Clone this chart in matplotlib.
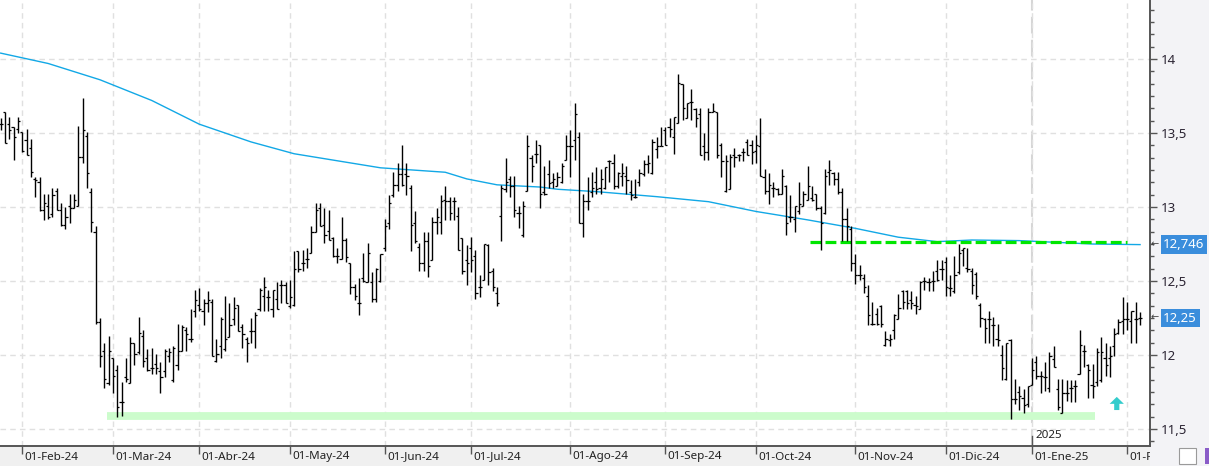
import numpy as np
import pandas as pd
import matplotlib
matplotlib.use("Agg")
import matplotlib.pyplot as plt
from matplotlib.ticker import MultipleLocator, FuncFormatter
from matplotlib.transforms import blended_transform_factory, Bbox, TransformedBbox
from matplotlib.patches import Polygon, Rectangle

# --- trading calendar (BME holidays removed) ---
holidays = ["2024-03-29", "2024-04-01", "2024-05-01", "2024-12-25", "2024-12-26", "2025-01-01"]
dates = pd.bdate_range("2024-01-25", "2025-02-06", freq="C", holidays=holidays)

highs = [
    13.60, 13.64, 13.61, 13.54, 13.61, 13.51, 13.53, 13.46, 13.20, 13.20,
    13.09, 13.09, 13.13, 13.13, 13.03, 13.00, 13.09, 13.09, 13.55, 13.74,
    13.51, 13.13, 12.87, 12.25, 12.08, 12.13, 11.98, 11.93, 11.82, 11.98,
    12.12, 12.08, 12.26, 12.17, 12.04, 12.05, 12.01, 11.95, 12.04, 12.05,
    12.06, 12.21, 12.20, 12.19, 12.31, 12.44, 12.45, 12.38, 12.43, 12.38,
    12.11, 12.26, 12.40, 12.35, 12.39, 12.34, 12.21, 12.12, 12.25, 12.29,
    12.45, 12.53, 12.44, 12.44, 12.49, 12.51, 12.49, 12.51, 12.70, 12.70,
    12.71, 12.72, 12.87, 13.03, 13.03, 12.99, 12.98, 12.80, 12.72, 12.93,
    12.79, 12.62, 12.48, 12.52, 12.69, 12.76, 12.56, 12.59, 12.68, 12.92,
    13.08, 13.24, 13.30, 13.42, 13.30, 13.15, 12.97, 12.76, 12.83, 12.83,
    12.93, 12.99, 13.08, 13.14, 13.07, 13.07, 13.00, 12.79, 12.74, 12.80,
    12.71, 12.54, 12.75, 12.75, 12.59, 12.46, 13.15, 13.33, 13.21, 13.21,
    13.01, 13.04, 13.49, 13.35, 13.45, 13.42, 13.28, 13.32, 13.23, 13.24,
    13.30, 13.49, 13.52, 13.70, 13.51, 13.09, 13.20, 13.24,
    13.27, 13.26, 13.27, 13.32, 13.36, 13.24, 13.30, 13.28, 13.18, 13.19,
    13.26, 13.32, 13.35, 13.46, 13.47, 13.54, 13.54, 13.60, 13.61, 13.90,
    13.83, 13.70, 13.80, 13.67, 13.67, 13.50, 13.67, 13.70, 13.64, 13.43,
    13.35, 13.36, 13.40, 13.36, 13.40, 13.46, 13.45, 13.49, 13.60, 13.26,
    13.23, 13.17, 13.13, 13.26, 13.15, 13.08, 13.01, 13.17, 13.11, 13.28,
    13.14, 13.09, 13.01, 13.26, 13.32, 13.24, 13.24, 13.13, 12.99, 12.87,
    12.68, 12.61, 12.55, 12.47, 12.36, 12.32, 12.34, 12.16, 12.14, 12.28,
    12.41,
    12.44, 12.44, 12.43, 12.40, 12.50, 12.53, 12.52, 12.57, 12.64, 12.64,
    12.66, 12.54, 12.67, 12.75, 12.72, 12.72, 12.59, 12.56, 12.35, 12.25,
    12.30, 12.26, 12.21, 12.07, 12.08, 12.11, 11.84, 11.79, 11.77, 11.79,
    11.98, 11.99, 11.89, 11.95, 12.02, 12.06, 11.84, 11.84, 11.83, 11.83,
    11.83, 12.17, 12.07, 11.94, 11.94, 12.05, 12.12, 12.08, 12.06, 12.18,
    12.24, 12.39, 12.36, 12.30, 12.36, 12.29,
]

lows = [
    13.52, 13.43, 13.46, 13.32, 13.50, 13.37, 13.35, 13.20, 13.07, 12.97,
    12.91, 12.92, 12.93, 12.98, 12.87, 12.85, 12.89, 12.99, 13.01, 13.30,
    13.13, 12.83, 12.21, 11.92, 11.78, 11.80, 11.74, 11.58, 11.59, 11.82,
    11.81, 11.93, 12.01, 11.92, 11.89, 11.87, 11.87, 11.74, 11.85, 11.95,
    11.82, 11.90, 12.03, 12.03, 12.09, 12.26, 12.30, 12.20, 12.29, 11.99,
    11.95, 11.98, 12.03, 12.12, 12.20, 12.16, 12.05, 11.95, 12.08, 12.05,
    12.30, 12.30, 12.30, 12.26, 12.31, 12.35, 12.35, 12.32, 12.33, 12.56,
    12.57, 12.59, 12.69, 12.83, 12.87, 12.76, 12.78, 12.66, 12.62, 12.65,
    12.63, 12.41, 12.37, 12.27, 12.49, 12.49, 12.36, 12.36, 12.49, 12.70,
    12.85, 13.07, 13.11, 13.14, 13.08, 12.70, 12.76, 12.57, 12.57, 12.53,
    12.64, 12.82, 12.82, 12.91, 12.91, 12.91, 12.71, 12.55, 12.47, 12.56,
    12.38, 12.39, 12.51, 12.47, 12.43, 12.33, 12.77, 13.10, 13.07, 12.93,
    12.86, 12.80, 13.11, 13.17, 13.30, 12.99, 13.08, 13.13, 13.13, 13.14,
    13.16, 13.32, 13.20, 13.32, 12.89, 12.80, 12.98, 13.07,
    13.09, 13.09, 13.12, 13.17, 13.12, 13.13, 13.14, 13.09, 13.05, 13.06,
    13.14, 13.21, 13.23, 13.22, 13.33, 13.41, 13.42, 13.47, 13.36, 13.57,
    13.59, 13.60, 13.59, 13.54, 13.35, 13.32, 13.32, 13.64, 13.33, 13.20,
    13.10, 13.12, 13.27, 13.31, 13.31, 13.35, 13.29, 13.30, 13.21, 13.09,
    13.02, 13.07, 13.08, 13.09, 12.81, 12.90, 12.83, 12.95, 13.01, 13.05,
    13.04, 12.98, 12.71, 12.95, 13.15, 13.15, 13.09, 12.77, 12.77, 12.57,
    12.48, 12.51, 12.42, 12.20, 12.20, 12.20, 12.19, 12.06, 12.06, 12.11,
    12.24,
    12.31, 12.31, 12.31, 12.28, 12.31, 12.44, 12.43, 12.43, 12.50, 12.51,
    12.40, 12.40, 12.42, 12.55, 12.60, 12.56, 12.41, 12.38, 12.19, 12.08,
    12.08, 12.06, 12.06, 11.83, 11.83, 11.57, 11.67, 11.63, 11.61, 11.65,
    11.80, 11.84, 11.74, 11.76, 11.75, 11.92, 11.63, 11.61, 11.69, 11.68,
    11.68, 11.87, 11.92, 11.71, 11.71, 11.79, 11.82, 11.86, 11.85, 11.99,
    12.14, 12.14, 12.17, 12.08, 12.08, 12.20,
]

opens = [
    13.56, 13.64, 13.56, 13.54, 13.53, 13.51, 13.45, 13.40, 13.19, 13.17,
    12.98, 13.01, 12.95, 13.11, 12.98, 12.88, 13.01, 12.99, 13.01, 13.34,
    13.48, 13.10, 12.83, 12.22, 12.03, 11.81, 11.98, 11.90, 11.68, 11.85,
    11.81, 12.08, 12.02, 12.13, 11.98, 11.91, 11.94, 11.89, 11.89, 11.99,
    11.83, 11.93, 12.03, 12.17, 12.11, 12.30, 12.34, 12.30, 12.35, 12.36,
    11.96, 12.06, 12.04, 12.12, 12.24, 12.34, 12.19, 12.11, 12.16, 12.16,
    12.31, 12.40, 12.39, 12.31, 12.38, 12.47, 12.47, 12.33, 12.34, 12.70,
    12.62, 12.65, 12.69, 12.83, 12.99, 12.88, 12.84, 12.79, 12.67, 12.65,
    12.78, 12.62, 12.46, 12.35, 12.52, 12.49, 12.49, 12.38, 12.50, 12.72,
    12.89, 13.08, 13.15, 13.22, 13.22, 13.13, 12.89, 12.73, 12.62, 12.77,
    12.64, 12.90, 12.90, 13.05, 13.04, 13.04, 12.94, 12.79, 12.64, 12.72,
    12.67, 12.46, 12.51, 12.74, 12.57, 12.42, 12.94, 13.12, 13.19, 13.14,
    12.96, 12.81, 13.11, 13.33, 13.36, 13.42, 13.10, 13.22, 13.17, 13.14,
    13.17, 13.32, 13.41, 13.45, 13.47, 12.89, 13.04, 13.10,
    13.17, 13.13, 13.13, 13.31, 13.30, 13.14, 13.21, 13.21, 13.10, 13.07,
    13.17, 13.22, 13.29, 13.23, 13.39, 13.41, 13.52, 13.54, 13.47, 13.57,
    13.83, 13.60, 13.71, 13.66, 13.63, 13.41, 13.37, 13.64, 13.64, 13.42,
    13.11, 13.12, 13.35, 13.35, 13.37, 13.44, 13.42, 13.38, 13.41, 13.20,
    13.11, 13.13, 13.12, 13.09, 13.14, 12.93, 12.92, 12.97, 13.01, 13.05,
    13.06, 13.09, 12.99, 12.96, 13.24, 13.23, 13.19, 13.10, 12.92, 12.85,
    12.62, 12.54, 12.52, 12.40, 12.21, 12.28, 12.33, 12.07, 12.10, 12.17,
    12.24,
    12.43, 12.43, 12.37, 12.34, 12.31, 12.50, 12.49, 12.50, 12.57, 12.58,
    12.63, 12.45, 12.43, 12.56, 12.71, 12.59, 12.57, 12.55, 12.34, 12.24,
    12.24, 12.20, 12.11, 12.00, 11.84, 12.10, 11.70, 11.75, 11.71, 11.67,
    11.80, 11.95, 11.86, 11.85, 11.78, 11.97, 11.77, 11.61, 11.74, 11.78,
    11.79, 11.87, 12.03, 11.93, 11.80, 11.82, 11.83, 11.98, 11.98, 12.06,
    12.15, 12.23, 12.24, 12.23, 12.24, 12.25,
]

closes = [
    13.56, 13.43, 13.52, 13.47, 13.58, 13.38, 13.35, 13.24, 13.18, 12.98,
    13.03, 12.93, 13.08, 12.98, 12.88, 12.93, 12.99, 13.05, 13.34, 13.52,
    13.23, 12.90, 12.22, 11.99, 11.84, 12.03, 11.86, 11.65, 11.68, 11.84,
    12.08, 12.01, 12.15, 11.96, 11.90, 11.91, 11.91, 11.85, 12.03, 12.02,
    12.05, 12.03, 12.19, 12.14, 12.11, 12.37, 12.31, 12.35, 12.37, 11.99,
    12.01, 12.24, 12.11, 12.20, 12.32, 12.16, 12.14, 12.08, 12.16, 12.27,
    12.44, 12.46, 12.39, 12.44, 12.31, 12.47, 12.35, 12.39, 12.58, 12.58,
    12.62, 12.65, 12.83, 12.98, 12.87, 12.81, 12.78, 12.67, 12.67, 12.78,
    12.66, 12.46, 12.40, 12.35, 12.50, 12.69, 12.38, 12.58, 12.68, 12.87,
    13.03, 13.15, 13.22, 13.15, 13.21, 12.88, 12.77, 12.62, 12.77, 12.60,
    12.90, 12.93, 13.04, 13.04, 12.96, 13.04, 12.71, 12.57, 12.62, 12.64,
    12.42, 12.46, 12.75, 12.56, 12.46, 12.35, 13.13, 13.17, 13.14, 12.98,
    12.96, 13.01, 13.41, 13.28, 13.36, 13.09, 13.09, 13.16, 13.19, 13.20,
    13.28, 13.41, 13.41, 13.63, 12.89, 13.04, 13.04, 13.13,
    13.12, 13.19, 13.27, 13.31, 13.14, 13.23, 13.23, 13.18, 13.08, 13.07,
    13.23, 13.29, 13.30, 13.44, 13.41, 13.41, 13.42, 13.53, 13.61, 13.84,
    13.67, 13.70, 13.71, 13.60, 13.35, 13.37, 13.64, 13.65, 13.35, 13.31,
    13.31, 13.34, 13.34, 13.35, 13.37, 13.35, 13.37, 13.42, 13.21, 13.11,
    13.15, 13.13, 13.09, 13.21, 12.89, 12.93, 13.01, 13.02, 13.09, 13.14,
    13.05, 12.99, 12.89, 13.21, 13.25, 13.19, 13.10, 12.92, 12.87, 12.62,
    12.54, 12.54, 12.46, 12.27, 12.21, 12.21, 12.21, 12.11, 12.11, 12.27,
    12.32,
    12.36, 12.35, 12.35, 12.33, 12.49, 12.50, 12.49, 12.50, 12.51, 12.58,
    12.46, 12.45, 12.54, 12.69, 12.72, 12.58, 12.47, 12.40, 12.25, 12.18,
    12.24, 12.20, 12.10, 11.91, 12.08, 11.70, 11.70, 11.72, 11.66, 11.79,
    11.90, 11.86, 11.86, 11.85, 11.99, 11.92, 11.65, 11.74, 11.74, 11.78,
    11.79, 12.07, 12.03, 11.90, 11.79, 12.02, 12.02, 11.93, 11.99, 12.14,
    12.22, 12.24, 12.24, 12.30, 12.24, 12.25,
]

# 200-session moving average, read at a handful of sessions
ma_bar = [0, 11, 23, 35, 46, 58, 68, 88, 103, 108, 115, 125, 129, 138, 152, 164,
          175, 187, 198, 208, 217, 225, 236, 244, 253, 264]
ma_val = [14.04, 13.97, 13.86, 13.72, 13.56, 13.44, 13.36, 13.265, 13.235, 13.19,
          13.15, 13.135, 13.12, 13.104, 13.07, 13.036, 12.97, 12.913, 12.856, 12.796,
          12.766, 12.777, 12.773, 12.762, 12.750, 12.746]

resistance = 12.763
support = 11.59
ma_last = 12.746
last_close = 12.25

MESES = {1: "Ene", 2: "Feb", 3: "Mar", 4: "Abr", 5: "May", 6: "Jun", 7: "Jul",
         8: "Ago", 9: "Sep", 10: "Oct", 11: "Nov", 12: "Dic"}

W, H = 1209, 466
AX_R, AX_B = 1150, 446

plt.rcParams['font.family'] = ['Noto Sans', 'DejaVu Sans']

fig = plt.figure(figsize=(W / 100, H / 100), dpi=100, facecolor="#f0f0f0")
fig.add_artist(Rectangle((AX_R / W, 0), 1 - AX_R / W, 1, transform=fig.transFigure,
                         facecolor="#f3f3f6", edgecolor="none", zorder=-1))
ax = fig.add_axes([0, (H - AX_B) / H, AX_R / W, AX_B / H])
ax.set_facecolor("white")

x = np.arange(len(dates))
ax.set_xlim(-0.16, 266.3)
ax.set_ylim(11.385, 14.399)

# month ticks / grid
new_month = np.r_[False, dates.month[1:] != dates.month[:-1]]
month_idx = x[new_month]
month_dates = dates[new_month]
ax.set_xticks(month_idx)
ax.set_xticklabels([])
ax.tick_params(axis="x", direction="out", length=6, width=1, color="#555555")
ax.grid(axis="x", color="#e0e0e0", linestyle=(0, (4, 3)), lw=1)

ax.yaxis.tick_right()
ax.yaxis.set_major_locator(MultipleLocator(0.5))
ax.yaxis.set_minor_locator(MultipleLocator(0.5 / 6))
ax.yaxis.set_major_formatter(FuncFormatter(lambda v, p: f"{v:g}".replace(".", ",")))
ax.tick_params(axis="y", which="major", length=5, width=1, color="#555555",
               labelsize=9.5, labelcolor="#2b2433", pad=3)
ax.tick_params(axis="y", which="minor", length=3, width=1, color="#555555")
ax.grid(axis="y", which="major", color="#e0e0e0", linestyle=(0, (4, 3)), lw=1)

for s in ["top", "left"]:
    ax.spines[s].set_visible(False)
for s in ["right", "bottom"]:
    ax.spines[s].set_color("#555555")
    ax.spines[s].set_linewidth(1.4)

# month labels, clipped at the price panel
clip = TransformedBbox(Bbox([[0, 0], [AX_R / W, 1]]), fig.transFigure)
trans = blended_transform_factory(ax.transData, ax.transAxes)
for i, d in zip(month_idx, month_dates):
    t = ax.text(i + 0.5, -11 / AX_B, f"01-{MESES[d.month]}-{d:%y}", transform=trans,
                ha="left", va="center", fontsize=8.4, color="#222222")
    t.set_clip_box(clip)
    t.set_clip_on(True)

# year separator
jan = month_idx[[d.year == 2025 and d.month == 1 for d in month_dates]][0]
ax.axvline(jan, color="#d6d6d6", lw=1.5, dashes=(8, 3), zorder=1)
ax.plot([jan, jan], [0, 10 / AX_B], transform=trans, color="#555555", lw=1, clip_on=False)
ax.text(jan + 0.7, 10 / AX_B, "2025", transform=trans, ha="left", va="center",
        fontsize=8.4, color="#222222")

# support band and resistance line
ax.plot([24.6, 253.5], [support, support], color="#ccfccc", lw=5.6,
        solid_capstyle="butt", zorder=2)
ax.plot([187.5, 261.0], [resistance, resistance], color="#00e600", lw=2.3,
        dashes=(3.4, 1.3), zorder=4)

# moving average
ax.plot(ma_bar, ma_val, color="#12a8e6", lw=1.0, zorder=3)

# OHLC bars
ax.vlines(x, lows, highs, color="black", lw=1.0, zorder=5)
ax.hlines(opens, x - 0.5, x, color="black", lw=0.9, zorder=5)
ax.hlines(closes, x, x + 0.5, color="black", lw=0.9, zorder=5)

# up arrow
ax_x, tip = 258.6, 11.717
arrow = Polygon([(ax_x, tip), (ax_x + 1.65, tip - 0.047), (ax_x + 0.6, tip - 0.047),
                 (ax_x + 0.6, tip - 0.089), (ax_x - 0.6, tip - 0.089),
                 (ax_x - 0.6, tip - 0.047), (ax_x - 1.65, tip - 0.047)],
                closed=True, facecolor="#33cccc", edgecolor="none", zorder=6)
ax.add_patch(arrow)

# price flags on the axis
ytrans = blended_transform_factory(ax.transAxes, ax.transData)
for val, txt in [(ma_last, "12,746"), (last_close, "12,25")]:
    ax.text(1.0115, val, txt, transform=ytrans, ha="left", va="center", fontsize=9.5,
            color="white", zorder=10,
            bbox=dict(boxstyle="square,pad=0.2", facecolor="#3a8ddc", edgecolor="none"))
    ax.text(1.0005, val, "←", transform=ytrans, ha="left", va="center", fontsize=7,
            color="#444444", zorder=10)

# small toolbar icons bottom right
fig.add_artist(Rectangle((1179 / W, 2 / H), 17 / W, 16 / H, transform=fig.transFigure,
                         facecolor="white", edgecolor="#9a9a9a", lw=0.8))
fig.add_artist(Rectangle((1205 / W, 2 / H), 4 / W, 16 / H, transform=fig.transFigure,
                         facecolor="#8a5cc8", edgecolor="none"))

fig.savefig("out.png", dpi=100, facecolor=fig.get_facecolor())
